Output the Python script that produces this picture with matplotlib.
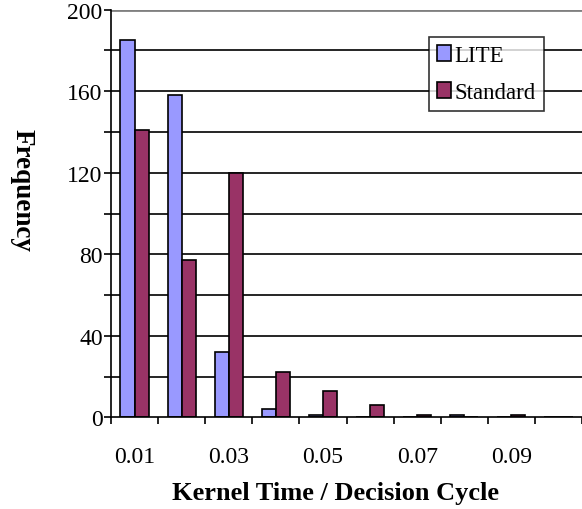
import numpy as np
import matplotlib
matplotlib.use("Agg")
import matplotlib.pyplot as plt
from matplotlib.ticker import MultipleLocator

plt.rcParams['font.family'] = ['Liberation Serif', 'DejaVu Serif']

categories = ['0.01', '0.02', '0.03', '0.04', '0.05', '0.06', '0.07', '0.08', '0.09', '0.10']
lite = [185, 158, 32, 4, 1, 0, 0, 1, 0, 0]
standard = [141, 77, 120, 22, 13, 6, 1, 0, 1, 0]

x = np.arange(len(categories))
w = 0.3
fs = 17

fig = plt.figure(figsize=(5.82, 5.10), dpi=100)
ax = fig.add_axes([111 / 582, 91.7 / 510, 471 / 582, 407.6 / 510])

ax.bar(x - w / 2, lite, w, color='#9999ff', edgecolor='black', linewidth=1.2, label='LITE', zorder=3)
ax.bar(x + w / 2, standard, w, color='#993366', edgecolor='black', linewidth=1.2, label='Standard', zorder=3)

ax.set_xlim(-0.5, len(categories) - 0.5)
ax.set_ylim(0, 200)

# gridlines every 20, top one grey like the plot border
for yv in range(20, 200, 20):
    ax.axhline(yv, color='black', linewidth=1.2, zorder=1)
ax.axhline(200, color='#808080', linewidth=2, zorder=1)

ax.yaxis.set_major_locator(MultipleLocator(40))
ax.yaxis.set_minor_locator(MultipleLocator(20))
ax.tick_params(axis='y', which='both', direction='out', length=5, width=1.2, labelsize=fs, pad=1)

# category boundaries get tick marks, labels on every other category
ax.set_xticks(np.arange(-0.5, len(categories) - 0.4, 1.0))
ax.set_xticklabels([])
ax.set_xticks(x[::2], minor=True)
ax.set_xticklabels(categories[::2], minor=True)
ax.tick_params(axis='x', which='major', direction='out', length=5, width=1.2)
ax.tick_params(axis='x', which='minor', length=0, labelsize=fs, pad=21)

for side in ['top', 'right']:
    ax.spines[side].set_visible(False)
ax.spines['left'].set_linewidth(1.2)
ax.spines['bottom'].set_linewidth(1.2)
ax.spines['left'].set_zorder(4)
ax.spines['bottom'].set_zorder(4)

fig.text(22 / 582, 1 - 190 / 510, 'Frequency', rotation=-90, fontsize=19.5,
         fontweight='bold', ha='center', va='center')
fig.text(335 / 582, 1 - 494 / 510, 'Kernel Time / Decision Cycle', fontsize=19,
         fontweight='bold', ha='center', va='center')

leg = ax.legend(loc='upper left', bbox_to_anchor=(429 / 582, 1 - 38 / 510),
                bbox_transform=fig.transFigure, fontsize=16.5, frameon=True, fancybox=False,
                borderpad=0.35, handlelength=0.62, handleheight=0.65, handletextpad=0.15,
                labelspacing=0.7, borderaxespad=0)
leg.get_frame().set_edgecolor('black')
leg.get_frame().set_linewidth(1.2)
leg.set_zorder(5)

fig.savefig('out.png', dpi=100)
